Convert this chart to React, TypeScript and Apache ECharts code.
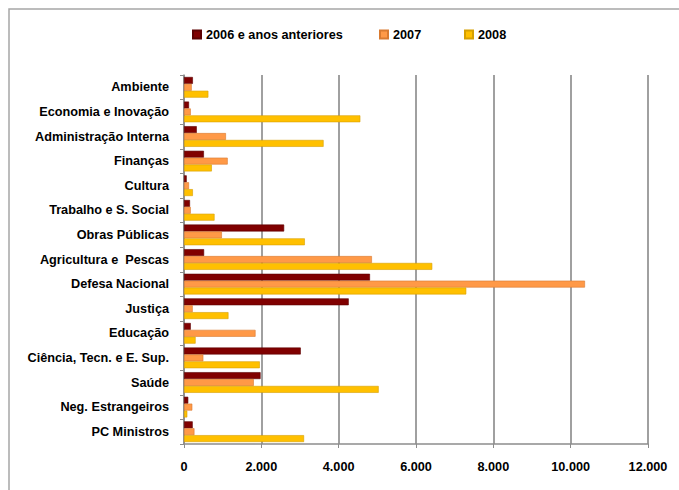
import React, { useEffect, useRef } from "react";
import * as echarts from "echarts";

const categories = [
  "Ambiente",
  "Economia e Inovação",
  "Administração Interna",
  "Finanças",
  "Cultura",
  "Trabalho e S. Social",
  "Obras Públicas",
  "Agricultura e  Pescas",
  "Defesa Nacional",
  "Justiça",
  "Educação",
  "Ciência, Tecn. e E. Sup.",
  "Saúde",
  "Neg. Estrangeiros",
  "PC Ministros",
];

const s2006 = [230, 130, 330, 515, 70, 155, 2590, 520, 4810, 4260, 175, 3020, 1980, 110, 225];
const s2007 = [200, 175, 1085, 1130, 130, 175, 980, 4860, 10370, 225, 1850, 500, 1805, 215, 270];
const s2008 = [630, 4560, 3610, 720, 230, 790, 3125, 6420, 7300, 1150, 300, 1960, 5035, 85, 3105];

const seriesNames = ["2006 e anos anteriores", "2007", "2008"];
const xTicks = { min: 0, max: 12000, interval: 2000 };

const FONT = "'Liberation Sans', Arial, sans-serif";
const FS = 12.7;

function fmt(n: number): string {
  return String(n).replace(/\B(?=(\d{3})+(?!\d))/g, ".");
}

export default function App() {
  const ref = useRef<HTMLDivElement>(null);
  useEffect(() => {
    if (!ref.current) return;
    const chart = echarts.init(ref.current, undefined, { renderer: "svg" });
    const colors = ["#800000", "#FF9947", "#FFC000"];
    const borders = ["#5c0000", "#d97a30", "#d6a000"];
    const data = [s2006, s2007, s2008];
    const legendLeft = [187, 374, 459];
    chart.setOption({
      animation: false,
      backgroundColor: "#ffffff",
      textStyle: { fontFamily: FONT },
      legend: seriesNames.map((n, i) => ({
        data: [n],
        left: legendLeft[i],
        top: 23,
        icon: "rect",
        itemWidth: 8,
        itemHeight: 8,
        itemGap: 5,
        textStyle: { fontFamily: FONT, fontWeight: "bold", fontSize: FS, color: "#000" },
      })),
      grid: { left: 184, right: 31, top: 75, bottom: 46, containLabel: false },
      xAxis: {
        type: "value",
        min: xTicks.min,
        max: xTicks.max,
        interval: xTicks.interval,
        axisLine: { show: true, lineStyle: { color: "#8c8c8c", width: 1.5 } },
        axisTick: { show: true, length: 4, lineStyle: { color: "#8c8c8c" } },
        axisLabel: {
          formatter: (v: number) => fmt(v),
          margin: 16,
          fontFamily: FONT,
          fontWeight: "bold",
          fontSize: FS,
          color: "#000",
        },
        splitLine: { show: true, lineStyle: { color: "#a0a0a0", width: 2 } },
      },
      yAxis: {
        type: "category",
        data: categories,
        inverse: true,
        axisLine: { show: true, lineStyle: { color: "#8c8c8c", width: 1.5 } },
        axisTick: { show: true, length: 4, lineStyle: { color: "#8c8c8c" } },
        axisLabel: {
          margin: 15,
          fontFamily: FONT,
          fontWeight: "bold",
          fontSize: FS,
          color: "#000",
        },
      },
      graphic: [
        {
          type: "rect",
          shape: { x: 9, y: 9, width: 720, height: 520 },
          style: { fill: "none", stroke: "#a6a6a6", lineWidth: 1.5 },
          silent: true,
        },
      ],
      series: seriesNames.map((n, i) => ({
        name: n,
        type: "bar",
        data: data[i],
        barGap: "0%",
        barCategoryGap: "16%",
        itemStyle: { color: colors[i], borderColor: borders[i], borderWidth: 0.6 },
      })),
    });
    return () => chart.dispose();
  }, []);
  return (
    <div
      ref={ref}
      style={{ position: "fixed", left: 0, top: 0, width: 679, height: 490 }}
    />
  );
}
